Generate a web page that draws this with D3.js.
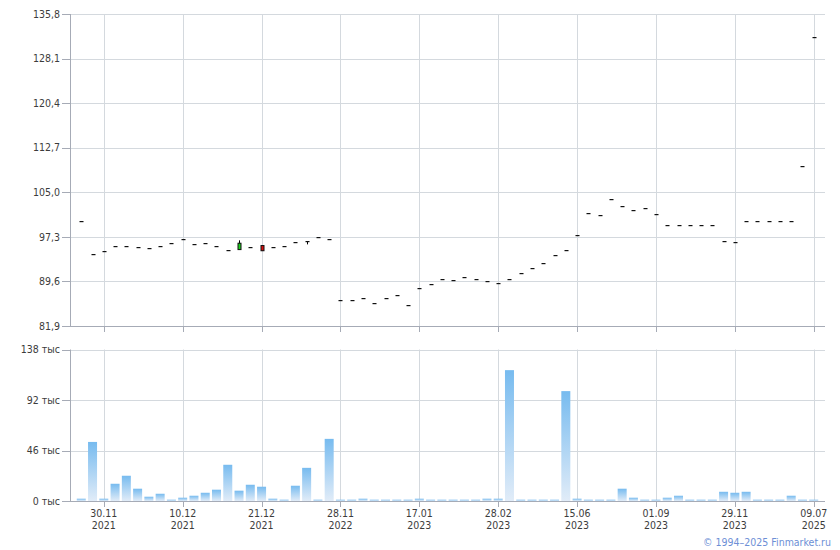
<!DOCTYPE html>
<html>
<head>
<meta charset="utf-8">
<script src="https://cdn.jsdelivr.net/npm/d3@7"></script>
<style>
  html, body { margin: 0; padding: 0; background: #fff; }
  svg { display: block; }
  text { font-family: "DejaVu Sans Condensed", "DejaVu Sans", Verdana, sans-serif; font-size: 10.5px; fill: #3c3c3c; }
</style>
</head>
<body>
<svg id="chart" width="840" height="550"></svg>
<script>
// ---- data ----
const closeV = [100.0, 94.3, 94.8, 95.8, 95.8, 95.5, 95.3, 95.7, 96.2, 96.9,
                96.1, 96.2, 95.7, 95.1, 96.2, 95.5, 94.9, 95.5, 95.8, 96.4,
                96.5, 97.2, 96.9, 86.4, 86.4, 86.7, 85.9, 86.7, 87.2, 85.6,
                88.4, 89.1, 90.1, 89.8, 90.3, 90.1, 89.6, 89.3, 90.0, 91.0,
                92.0, 92.7, 94.1, 95.1, 97.7, 101.4, 101.0, 103.8, 102.6, 101.9,
                102.2, 101.2, 99.3, 99.3, 99.3, 99.3, 99.3, 96.6, 96.4, 100.0,
                100.0, 100.0, 100.0, 100.0, 109.5, 131.8];
const openV = closeV.map((c, i) => i === 14 ? 95.1 : i === 16 ? 95.8 : c);
const highV = closeV.map((c, i) => i === 14 ? 96.7 : i === 16 ? 95.8 : i === 20 ? 96.5 : c);
const lowV  = closeV.map((c, i) => i === 14 ? 95.1 : i === 16 ? 94.9 : i === 20 ? 96.0 : c);
const volumeV = [2.1, 53.8, 2.1, 15.7, 23.0, 11.2, 3.9, 6.6, 1.2, 3.0,
                 4.8, 7.5, 10.3, 33.0, 9.4, 14.8, 13.0, 2.1, 1.2, 13.9,
                 30.2, 1.2, 56.6, 1.2, 1.2, 2.1, 1.2, 1.2, 1.2, 1.2,
                 2.1, 1.2, 1.2, 1.2, 1.2, 1.2, 2.1, 2.1, 119.2, 1.2,
                 1.2, 1.2, 1.2, 100.1, 2.1, 1.2, 1.2, 1.2, 11.2, 3.0,
                 1.2, 1.2, 3.0, 4.8, 1.2, 1.2, 1.2, 8.4, 7.5, 8.4,
                 1.2, 1.2, 1.2, 4.8, 1.2, 1.2];
const tickIndex = [2, 9, 16, 23, 30, 37, 44, 51, 58, 65];
const tickDate  = ["30.11", "10.12", "21.12", "28.11", "17.01", "28.02", "15.06", "01.09", "29.11", "09.07"];
const tickYear  = ["2021", "2021", "2021", "2022", "2023", "2023", "2023", "2023", "2023", "2025"];
const priceTicks = [81.9, 89.6, 97.3, 105.0, 112.7, 120.4, 128.1, 135.8];
const volumeTicks = [0, 46, 92, 138];

// ---- layout ----
const svg = d3.select("#chart");
const L = 70, R = 825;
const pTop = 14, pBot = 326;
const vTop = 349.5, vBot = 501;
const gridC = "#d4d9de", axisC = "#a6abb6";

const idx = d3.range(closeV.length);
const x = d3.scalePoint().domain(idx).range([L, R]).padding(1);
const yP = d3.scaleLinear().domain([81.9, 135.8]).range([pBot, pTop]);
const yV = d3.scaleLinear().domain([0, 138]).range([vBot, vTop]);
const fmtP = d => d.toFixed(1).replace(".", ",");

const defs = svg.append("defs");
const grad = defs.append("linearGradient").attr("id", "vg").attr("x1", 0).attr("y1", 0).attr("x2", 0).attr("y2", 1);
grad.append("stop").attr("offset", "0%").attr("stop-color", "#77bbef");
grad.append("stop").attr("offset", "100%").attr("stop-color", "#e1ecf8");

function panel(y, ticks, fmt, top, bot) {
  const g = svg.append("g");
  g.selectAll("line.v").data(tickIndex).join("line")
    .attr("x1", d => Math.round(x(d)) + 0.5).attr("x2", d => Math.round(x(d)) + 0.5)
    .attr("y1", top).attr("y2", bot).attr("stroke", gridC);
  g.selectAll("line.t").data(tickIndex).join("line")
    .attr("x1", d => Math.round(x(d)) + 0.5).attr("x2", d => Math.round(x(d)) + 0.5)
    .attr("y1", bot).attr("y2", bot + 6).attr("stroke", axisC);
  g.selectAll("line.h").data(ticks).join("line")
    .attr("x1", L).attr("x2", R)
    .attr("y1", d => Math.round(y(d)) + 0.5).attr("y2", d => Math.round(y(d)) + 0.5)
    .attr("stroke", d => d === ticks[0] ? axisC : gridC).attr("stroke-width", 1);
  g.append("line").attr("x1", L + 0.5).attr("x2", L + 0.5).attr("y1", top).attr("y2", bot).attr("stroke", axisC);
  g.selectAll("line.yt").data(ticks).join("line")
    .attr("x1", L - 8).attr("x2", L)
    .attr("y1", d => Math.round(y(d)) + 0.5).attr("y2", d => Math.round(y(d)) + 0.5)
    .attr("stroke", axisC);
  g.selectAll("text.yl").data(ticks).join("text")
    .attr("x", L - 10).attr("y", d => y(d)).attr("dy", "0.35em")
    .attr("text-anchor", "end").text(fmt);
  return g;
}

panel(yP, priceTicks, fmtP, pTop, pBot);
panel(yV, volumeTicks, d => d + " тыс", vTop, vBot);

// candles
const cw = 4;
const cg = svg.append("g");
idx.forEach(i => {
  const cx = Math.round(x(i));
  if (highV[i] !== lowV[i]) {
    cg.append("line").attr("x1", cx + 0.5).attr("x2", cx + 0.5)
      .attr("y1", yP(highV[i])).attr("y2", yP(lowV[i])).attr("stroke", "#000");
  }
  if (openV[i] === closeV[i]) {
    cg.append("rect").attr("x", cx - 1.5).attr("y", Math.round(yP(closeV[i])))
      .attr("width", cw).attr("height", 1.2).attr("fill", "#111");
  } else {
    const up = closeV[i] > openV[i];
    const y1 = yP(Math.max(openV[i], closeV[i])), y2 = yP(Math.min(openV[i], closeV[i]));
    cg.append("rect").attr("x", cx - 1).attr("y", y1).attr("width", 3).attr("height", y2 - y1)
      .attr("fill", up ? "#1fcf1f" : "#d81010").attr("stroke", "#111").attr("stroke-width", 1);
  }
});

// volume bars
const bw = 9;
svg.append("g").selectAll("rect").data(idx).join("rect")
  .attr("x", i => x(i) - bw / 2)
  .attr("y", i => yV(volumeV[i]))
  .attr("width", bw)
  .attr("height", i => vBot - yV(volumeV[i]))
  .attr("fill", "url(#vg)");

// x labels
const xl = svg.append("g");
tickIndex.forEach((t, k) => {
  xl.append("text").attr("x", x(t)).attr("y", 517).attr("text-anchor", "middle").text(tickDate[k]);
  xl.append("text").attr("x", x(t)).attr("y", 529).attr("text-anchor", "middle").text(tickYear[k]);
});

svg.append("text").attr("x", 831).attr("y", 546).attr("text-anchor", "end")
  .style("fill", "#6d8fd6").text("© 1994–2025 Finmarket.ru");
</script>
</body>
</html>
